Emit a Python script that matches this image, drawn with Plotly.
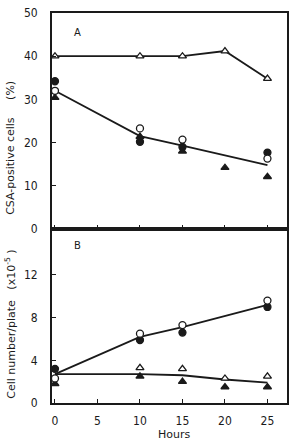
import plotly.graph_objects as go
from plotly.subplots import make_subplots

hours = [0, 10, 15, 20, 25]

# Panel A: CSA-positive cells (%)
a_open_tri_x = [0, 10, 15, 20, 25]
a_open_tri_y = [40, 40, 40, 41.2, 34.8]
a_open_circ_x = [0, 10, 15, 25]
a_open_circ_y = [32, 23.3, 20.7, 16.3]
a_fill_circ_x = [0, 10, 15, 25]
a_fill_circ_y = [34.2, 20.2, 19.0, 17.7]
a_fill_tri_x = [0, 10, 15, 20, 25]
a_fill_tri_y = [30.4, 21.4, 18.0, 14.2, 12.1]
a_fit_x = [0, 10, 15, 25]
a_fit_y = [32, 21.5, 19.3, 14.8]

# Panel B: Cell number/plate (x10^-5)
b_open_circ_x = [0, 10, 15, 25]
b_open_circ_y = [2.3, 6.5, 7.3, 9.6]
b_fill_circ_x = [0, 10, 15, 25]
b_fill_circ_y = [3.2, 5.9, 6.6, 9.0]
b_open_tri_x = [10, 15, 20, 25]
b_open_tri_y = [3.3, 3.2, 2.3, 2.5]
b_fill_tri_x = [0, 10, 15, 20, 25]
b_fill_tri_y = [1.8, 2.5, 2.0, 1.5, 1.5]
b_fit_up_x = [0, 10, 15, 25]
b_fit_up_y = [2.7, 6.2, 7.1, 9.2]
b_fit_low_x = [0, 10, 15, 20, 25]
b_fit_low_y = [2.7, 2.7, 2.6, 2.2, 1.9]

INK = "#1a1a1a"
fig = make_subplots(rows=2, cols=1, shared_xaxes=True, vertical_spacing=0,
                    row_heights=[0.554, 0.446])

def line(x, y, row):
    fig.add_trace(go.Scatter(x=x, y=y, mode="lines", line=dict(color=INK, width=1.8),
                             showlegend=False, hoverinfo="skip"), row=row, col=1)

def marks(x, y, symbol, filled, row, mode="markers"):
    fig.add_trace(go.Scatter(
        x=x, y=y, mode=mode, line=dict(color=INK, width=1.8),
        marker=dict(symbol=symbol, size=7,
                    color=INK if filled else "white",
                    line=dict(color=INK, width=1.3)),
        showlegend=False), row=row, col=1)

# Panel A
line(a_fit_x, a_fit_y, 1)
marks(a_open_tri_x, a_open_tri_y, "triangle-up", False, 1, mode="lines+markers")
marks(a_fill_tri_x, a_fill_tri_y, "triangle-up", True, 1)
marks(a_fill_circ_x, a_fill_circ_y, "circle", True, 1)
marks(a_open_circ_x, a_open_circ_y, "circle", False, 1)

# Panel B
line(b_fit_up_x, b_fit_up_y, 2)
line(b_fit_low_x, b_fit_low_y, 2)
marks(b_fill_tri_x, b_fill_tri_y, "triangle-up", True, 2)
marks(b_open_tri_x, b_open_tri_y, "triangle-up", False, 2)
marks(b_fill_circ_x, b_fill_circ_y, "circle", True, 2)
marks(b_open_circ_x, b_open_circ_y, "circle", False, 2)

tickfont = dict(family="Liberation Sans Narrow, DejaVu Sans Condensed, sans-serif", size=12, color=INK)
titlefont = dict(family="DejaVu Sans, sans-serif", size=11, color=INK)
axis_common = dict(showline=True, linecolor=INK, linewidth=1.8, mirror=True,
                   ticks="inside", ticklen=4, tickcolor=INK, tickwidth=1.2,
                   showgrid=False, zeroline=False, tickfont=tickfont, automargin=False)

fig.update_xaxes(range=[-0.35, 27.3], tickvals=[0, 5, 10, 15, 20, 25],
                 ticklabelstandoff=6, **axis_common)
fig.update_xaxes(showticklabels=False, row=1, col=1)

fig.update_yaxes(range=[0, 50], tickvals=[0, 10, 20, 30, 40, 50], ticklabelstandoff=10,
                 row=1, col=1, **axis_common)
fig.update_yaxes(range=[0, 16.3], tickvals=[0, 4, 8, 12], ticklabelstandoff=10,
                 row=2, col=1, **axis_common)

# axis titles as annotations for exact placement
fig.add_annotation(text="CSA-positive cells&nbsp;&nbsp;&nbsp;&nbsp;&nbsp;(%)", textangle=-90,
                   xref="paper", yref="paper", x=-0.175, y=0.654, showarrow=False,
                   xanchor="center", yanchor="middle", font=titlefont)
fig.add_annotation(text="Cell number/plate&nbsp;&nbsp;&nbsp;(x10<sup>-5</sup>&nbsp;)", textangle=-90,
                   xref="paper", yref="paper", x=-0.175, y=0.203, showarrow=False,
                   xanchor="center", yanchor="middle", font=titlefont)
fig.add_annotation(text="Hours", xref="paper", yref="paper", x=0.519, y=-0.082,
                   showarrow=False, xanchor="center", yanchor="middle", font=titlefont)

fig.add_annotation(text="A", x=2.6, y=45.5, xref="x", yref="y", showarrow=False,
                   font=dict(family="DejaVu Sans, sans-serif", size=10, color=INK))
fig.add_annotation(text="B", x=2.7, y=14.8, xref="x2", yref="y2", showarrow=False,
                   font=dict(family="DejaVu Sans, sans-serif", size=10, color=INK))

fig.update_layout(width=291, height=441, margin=dict(l=52, r=4, t=13, b=38),
                  paper_bgcolor="white", plot_bgcolor="white")

fig.write_html("out.html")
